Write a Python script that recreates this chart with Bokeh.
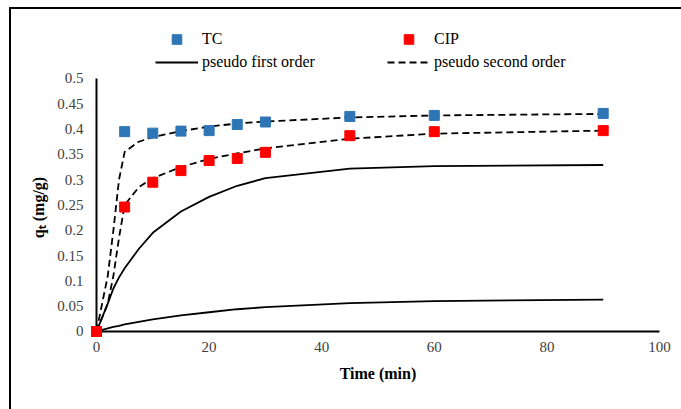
from bokeh.plotting import figure
from bokeh.models import Range1d, FixedTicker, Legend, LegendItem
from bokeh.embed import file_html
from bokeh.resources import INLINE

# ---- data ----
time_min = [0, 5, 10, 15, 20, 25, 30, 45, 60, 90]
tc_qt = [0, 0.395, 0.392, 0.396, 0.397, 0.409, 0.414, 0.425, 0.427, 0.431]
cip_qt = [0, 0.246, 0.295, 0.318, 0.338, 0.342, 0.354, 0.387, 0.395, 0.397]

fit_time = [0, 2, 3, 4, 5, 7.5, 10, 15, 20, 25, 30, 45, 60, 90]
pso_tc = [0, 0.11, 0.20, 0.30, 0.355, 0.375, 0.384, 0.396, 0.405, 0.411, 0.415, 0.423, 0.427, 0.430]
pso_cip = [0, 0.055, 0.11, 0.185, 0.25, 0.285, 0.303, 0.325, 0.341, 0.352, 0.362, 0.381, 0.391, 0.397]
pfo_upper = [0, 0.055, 0.085, 0.107, 0.125, 0.163, 0.195, 0.237, 0.266, 0.288, 0.303, 0.322, 0.327, 0.329]
pfo_lower = [0, 0.006, 0.009, 0.011, 0.014, 0.019, 0.024, 0.032, 0.038, 0.044, 0.048, 0.056, 0.060, 0.063]

x_ticks = [0, 20, 40, 60, 80, 100]
x_tick_labels = ["0", "20", "40", "60", "80", "100"]
y_ticks = [0, 0.05, 0.1, 0.15, 0.2, 0.25, 0.3, 0.35, 0.4, 0.45, 0.5]
y_tick_labels = ["0", "0.05", "0.1", "0.15", "0.2", "0.25", "0.3", "0.35", "0.4", "0.45", "0.5"]

series_names = ["TC", "CIP"]
model_names = ["pseudo first order", "pseudo second order"]
x_title = "Time (min)"
y_title = "q\u209c (mg/g)"

FONT = "Liberation Serif"
BLUE = "#2E75B6"
RED = "#FF0000"

p = figure(frame_width=588, frame_height=376, output_backend="svg", toolbar_location=None,
           x_range=Range1d(-1.42, 103.02), y_range=Range1d(-0.1265, 0.6166),
           min_border_left=77, min_border_right=5, min_border_top=10, min_border_bottom=20)
p.styles = {"border-top": "2px solid #000", "border-left": "2px solid #000",
            "margin-left": "9px", "margin-top": "7px"}
p.outline_line_color = None
p.grid.visible = False
p.background_fill_color = "white"
p.border_fill_color = "white"

for ax, ticks, labels, title in ((p.xaxis, x_ticks, x_tick_labels, x_title),
                                 (p.yaxis, y_ticks, y_tick_labels, y_title)):
    ax.ticker = FixedTicker(ticks=ticks)
    ax.major_label_overrides = {t: l for t, l in zip(ticks, labels)}
    ax.bounds = (ticks[0], ticks[-1])
    ax.axis_line_color = None
    ax.major_tick_line_color = None
    ax.minor_tick_line_color = None
    ax.major_tick_out = 0
    ax.major_tick_in = 0
    ax.major_label_text_font = FONT
    ax.major_label_text_font_size = "15px"
    ax.major_label_text_color = "#404040"
    ax.axis_label = title
    ax.axis_label_text_font = FONT
    ax.axis_label_text_font_size = "16px"
    ax.axis_label_text_font_style = "bold"
    ax.axis_label_text_color = "black"
p.xaxis.fixed_location = 0
p.xaxis.major_label_standoff = 11
p.yaxis.major_label_standoff = 5
p.xaxis.axis_label_standoff = 9
p.yaxis.axis_label_standoff = 7

# axis lines at the data origin
p.line([x_ticks[0], x_ticks[-1]], [y_ticks[0], y_ticks[0]], line_color="black", line_width=2)
p.line([x_ticks[0], x_ticks[0]], [y_ticks[0], y_ticks[-1]], line_color="black", line_width=2)

r_pfo1 = p.line(fit_time, pfo_upper, line_color="black", line_width=1.8)
p.line(fit_time, pfo_lower, line_color="black", line_width=1.8)
r_pso1 = p.line(fit_time, pso_tc, line_color="black", line_width=1.8, line_dash="7 4")
p.line(fit_time, pso_cip, line_color="black", line_width=1.8, line_dash="7 4")
r_tc = p.scatter(time_min, tc_qt, marker="square", size=10, fill_color=BLUE, line_color=BLUE)
r_cip = p.scatter(time_min, cip_qt, marker="square", size=10, fill_color=RED, line_color=RED)

# legends: location = bottom-left corner, in px from the frame's bottom-left
def leg(renderer, label, x, y, gh):
    lg = Legend(items=[LegendItem(label=label, renderers=[renderer])],
                location=(x, y), padding=0, margin=0, spacing=0,
                glyph_width=43, glyph_height=gh, label_height=gh,
                label_standoff=4, border_line_color=None, background_fill_alpha=0,
                label_text_font=FONT, label_text_font_size="16px", label_text_color="black")
    p.add_layout(lg)

leg(r_tc, series_names[0], 67, 344, 24)
leg(r_pfo1, model_names[0], 67, 324, 18)
leg(r_cip, series_names[1], 299, 344, 24)
leg(r_pso1, model_names[1], 299, 324, 18)

open("out.html", "w").write(file_html(p, INLINE))
